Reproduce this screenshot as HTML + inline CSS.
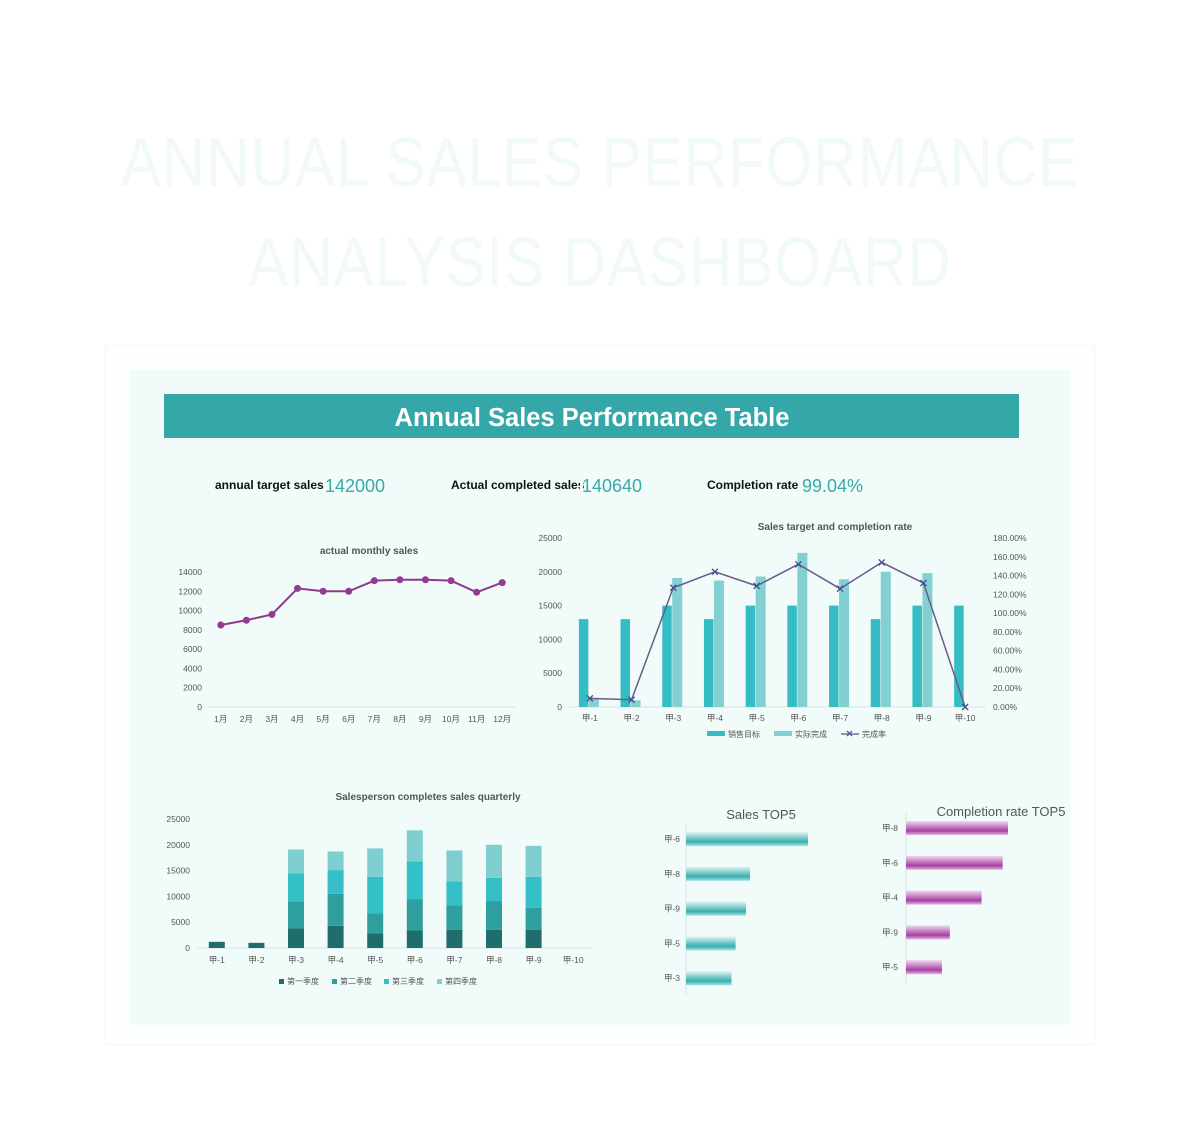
<!DOCTYPE html>
<html><head><meta charset="utf-8">
<style>
html,body{margin:0;padding:0;background:#fff;}
body{width:1200px;height:1144px;position:relative;overflow:hidden;font-family:"Liberation Sans","Noto Sans CJK SC",sans-serif;}
.title{position:absolute;left:0;width:1200px;text-align:center;color:#f1faf9;font-size:70px;letter-spacing:1px;transform:scaleX(0.86);transform-origin:600px 0;}
</style></head>
<body>
<div class="title" style="top:122px">ANNUAL SALES PERFORMANCE</div>
<div class="title" style="top:222px">ANALYSIS DASHBOARD</div>
<svg id="svg" width="1200" height="1144" style="position:absolute;left:0;top:0" xmlns="http://www.w3.org/2000/svg" font-family="Liberation Sans, Noto Sans CJK SC, sans-serif">
<defs>
<linearGradient id="gt" x1="0" y1="0" x2="0" y2="1"><stop offset="0" stop-color="#e0f4f3"/><stop offset="0.7" stop-color="#3aaeae"/><stop offset="1" stop-color="#9fe3e3"/></linearGradient>
<linearGradient id="gp" x1="0" y1="0" x2="0" y2="1"><stop offset="0" stop-color="#f0d8ee"/><stop offset="0.7" stop-color="#a63fa2"/><stop offset="1" stop-color="#e6b5e2"/></linearGradient>
</defs>
<rect x="105" y="345" width="990" height="700" fill="#fdfefe" stroke="#f4f8f8"/>
<rect x="130" y="370" width="940" height="655" fill="#f1fbfa"/>
<rect x="164" y="394" width="855" height="44" fill="#35a7a8"/>
<text x="592" y="426" text-anchor="middle" fill="#fff" font-size="25.5" font-weight="bold">Annual Sales Performance Table</text>
<g font-weight="bold" font-size="12" fill="#111">
<text x="215" y="489">annual target sales</text>
<text x="451" y="489">Actual completed sales</text>
<text x="707" y="489">Completion rate</text>
</g>
<g font-size="18" fill="#3aa9a8">
<text x="325" y="492">142000</text>
<rect x="580" y="474" width="3" height="20" fill="#f1fbfa"/>
<text x="582" y="492">140640</text>
<text x="802" y="492">99.04%</text>
</g>
<g id="g"></g>
</svg>
<script>
// monthly line chart
const months=['1月','2月','3月','4月','5月','6月','7月','8月','9月','10月','11月','12月'];
const monthlySales=[8500,9000,9600,12300,12000,12000,13100,13200,13200,13100,11900,12900];
const monthTicks=[0,2000,4000,6000,8000,10000,12000,14000];
// combo chart
const people=['甲-1','甲-2','甲-3','甲-4','甲-5','甲-6','甲-7','甲-8','甲-9','甲-10'];
const targets=[13000,13000,15000,13000,15000,15000,15000,13000,15000,15000];
const actuals=[1200,1000,19100,18700,19300,22800,18900,20000,19800,0];
const rates=[9.2,7.7,127,144,129,152,126,154,132,0];
const leftTicks=[0,5000,10000,15000,20000,25000];
const rightTicks=[0,20,40,60,80,100,120,140,160,180];
// quarterly stacked
const q1=[1200,1000,3800,4300,2800,3400,3500,3500,3500,0];
const q2=[0,0,5200,6200,3900,6000,4800,5600,4300,0];
const q3=[0,0,5500,4600,7100,7400,4600,4500,6000,0];
const q4=[0,0,4600,3600,5500,6000,6000,6400,6000,0];
const quarterNames=['第一季度','第二季度','第三季度','第四季度'];
// top5
const salesTopNames=['甲-6','甲-8','甲-9','甲-5','甲-3'];
const salesTopValues=[22800,20000,19800,19300,19100];
const rateTopNames=['甲-8','甲-6','甲-4','甲-9','甲-5'];
const rateTopValues=[154,152,144,132,129];

const NS='http://www.w3.org/2000/svg';
const g=document.getElementById('g');
function el(tag,attrs,txt){const e=document.createElementNS(NS,tag);for(const k in attrs)e.setAttribute(k,attrs[k]);if(txt!==undefined)e.textContent=txt;g.appendChild(e);return e;}
const AX='#555';

// ---- line chart
(function(){
const x0=208,x1=515,y0=707,y1=572,max=14000;
const xs=i=>x0+(x1-x0)/months.length*(i+0.5);
const ys=v=>y0-(y0-y1)*v/max;
let t=el('text',{x:369,y:554,'text-anchor':'middle','font-size':10,'font-weight':'bold',fill:'#555'},'actual monthly sales');


let a=el('line',{x1:x0,x2:x1,y1:y0,y2:y0,stroke:'#d8e4e4'});


monthTicks.forEach(v=>{const e=el('text',{x:202,y:ys(v)+3,'text-anchor':'end','font-size':8.5,fill:AX},v);

});
months.forEach((m,i)=>{const e=el('text',{x:xs(i),y:722,'text-anchor':'middle','font-size':8.5,fill:AX},m);

});
const p=el('polyline',{points:monthlySales.map((v,i)=>xs(i)+','+ys(v)).join(' '),fill:'none',stroke:'#8e3a8c','stroke-width':2});


monthlySales.forEach((v,i)=>{const c=el('circle',{cx:xs(i),cy:ys(v),r:3.5,fill:'#933a91'});

});
})();

// ---- combo chart
(function(){
const x0=569,x1=986,y0=707,y1=538,max=25000,rmax=180;
const step=(x1-x0)/people.length;
const xs=i=>x0+step*(i+0.5);
const ys=v=>y0-(y0-y1)*v/max;
const yr=v=>y0-(y0-y1)*v/rmax;
let t=el('text',{x:835,y:530,'text-anchor':'middle','font-size':10,'font-weight':'bold',fill:'#555'},'Sales target and completion rate');


let a=el('line',{x1:x0,x2:x1,y1:y0,y2:y0,stroke:'#d8e4e4'});


leftTicks.forEach(v=>{const e=el('text',{x:562,y:ys(v)+3,'text-anchor':'end','font-size':8.5,fill:AX},v);

});
rightTicks.forEach(v=>{const e=el('text',{x:993,y:yr(v)+3,'font-size':8.5,fill:AX},v.toFixed(2)+'%');

});
people.forEach((n,i)=>{
const e=el('text',{x:xs(i),y:721,'text-anchor':'middle','font-size':8.5,fill:AX},n);


const b=el('rect',{x:xs(i)-11,y:ys(targets[i]),width:9.5,height:y0-ys(targets[i]),fill:'#35bcc4'});


const b2=el('rect',{x:xs(i)-1,y:ys(actuals[i]),width:10,height:y0-ys(actuals[i]),fill:'#82d0d2'});


});
const p=el('polyline',{points:rates.map((v,i)=>xs(i)+','+yr(v)).join(' '),fill:'none',stroke:'#6a5a8e','stroke-width':1.5});


rates.forEach((v,i)=>{const m=el('path',{d:`M${xs(i)-3},${yr(v)-3}l6,6M${xs(i)+3},${yr(v)-3}l-6,6`,stroke:'#3f4f8a','stroke-width':1.3});

});
// legend
let l=el('rect',{x:707,y:731,width:18,height:5,fill:'#35bcc4'});


el('text',{x:728,y:737,'font-size':8,fill:AX},'销售目标');
l=el('rect',{x:774,y:731,width:18,height:5,fill:'#82d0d2'});


el('text',{x:795,y:737,'font-size':8,fill:AX},'实际完成');
l=el('path',{d:'M841,734h18M847,731l5,5M852,731l-5,5',stroke:'#5a5a8e','stroke-width':1.3});


el('text',{x:862,y:737,'font-size':8,fill:AX},'完成率');
})();

// ---- stacked chart
(function(){
const x0=197,x1=593,y0=948,y1=819,max=25000;
const step=(x1-x0)/people.length;
const xs=i=>x0+step*(i+0.5);
const ys=v=>y0-(y0-y1)*v/max;
const series=[q1,q2,q3,q4];
const colors=['#1f6e6c','#2f9e9e','#35bfc7','#80cfd0'];
let t=el('text',{x:428,y:800,'text-anchor':'middle','font-size':10,'font-weight':'bold',fill:'#555'},'Salesperson completes sales quarterly');


let a=el('line',{x1:x0,x2:x1,y1:y0,y2:y0,stroke:'#d8e4e4'});


leftTicks.forEach(v=>{const e=el('text',{x:190,y:ys(v)+3,'text-anchor':'end','font-size':8.5,fill:AX},v);

});
people.forEach((n,i)=>{
const e=el('text',{x:xs(i),y:963,'text-anchor':'middle','font-size':8.5,fill:AX},n);


let cum=0;
series.forEach((s,k)=>{const v=s[i];if(v<=0)return;
const r=el('rect',{x:xs(i)-8,y:ys(cum+v),width:16,height:ys(cum)-ys(cum+v),fill:colors[k]});


cum+=v;});
});
const lx=[279,332,384,437];
quarterNames.forEach((q,k)=>{const r=el('rect',{x:lx[k],y:979,width:5,height:5,fill:colors[k]});


el('text',{x:lx[k]+8,y:984,'font-size':8,fill:AX},q);});
})();

// ---- top5 bars
(function(){
let t=el('text',{x:761,y:819,'text-anchor':'middle','font-size':13,fill:'#555'},'Sales TOP5');


let a=el('line',{x1:686,x2:686,y1:825,y2:995,stroke:'#dde6e6'});


const base=16900,scale=122/(22800-16900);
salesTopNames.forEach((n,i)=>{const cy=839+i*34.8;
const e=el('text',{x:680,y:cy+3,'text-anchor':'end','font-size':8.5,fill:AX},n);


const r=el('rect',{x:686,y:cy-7,width:(salesTopValues[i]-base)*scale,height:14,fill:'url(#gt)'});

});
t=el('text',{x:1001,y:816,'text-anchor':'middle','font-size':13,fill:'#555'},'Completion rate TOP5');


a=el('line',{x1:906,x2:906,y1:812,y2:985,stroke:'#dde6e6'});


const rb=115.4,rs=102/(154-115.4);
rateTopNames.forEach((n,i)=>{const cy=828+i*34.8;
const e=el('text',{x:898,y:cy+3,'text-anchor':'end','font-size':8.5,fill:AX},n);


const r=el('rect',{x:906,y:cy-7,width:(rateTopValues[i]-rb)*rs,height:14,fill:'url(#gp)'});

});
})();
</script>
</body></html>
